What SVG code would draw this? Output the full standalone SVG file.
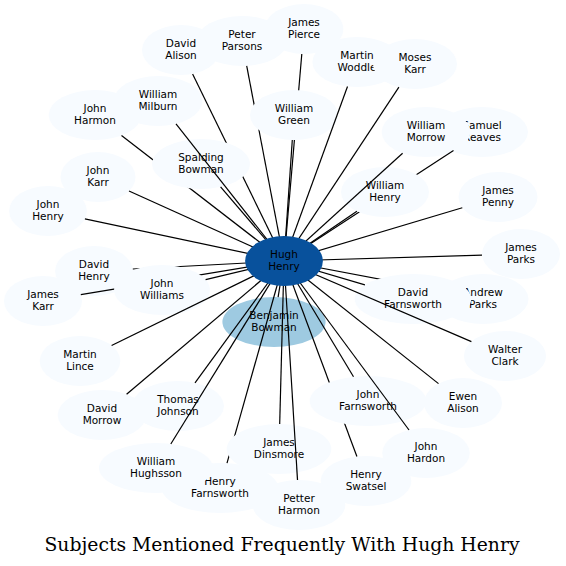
<svg xmlns="http://www.w3.org/2000/svg" width="566" height="566" viewBox="0 0 566 566">
<style>
.n ellipse{fill:#f7fbff;stroke:none}
.c ellipse{fill:#08519c;stroke:none}
.b ellipse{fill:#9ecae1;stroke:none}
text{font-family:"DejaVu Sans","Liberation Sans",sans-serif;font-size:10.5px;fill:#000;text-anchor:middle}
.e line{stroke:#000;stroke-width:1.2}
.title{font-family:"DejaVu Serif","Liberation Serif",serif;font-size:18.8px}
</style>
<rect width="566" height="566" fill="#fff"/>
<g id="node-benjamin-bowman" class="b"><ellipse cx="274" cy="322" rx="51.6" ry="25"/><text x="274" y="319">Benjamin</text><text x="274" y="331">Bowman</text></g>
<g id="node-david-alison" class="n"><ellipse cx="181" cy="50" rx="39" ry="25"/><text x="181" y="47">David</text><text x="181" y="59">Alison</text></g>
<g id="node-peter-parsons" class="n"><ellipse cx="242" cy="41" rx="45.7" ry="25"/><text x="242" y="38">Peter</text><text x="242" y="50">Parsons</text></g>
<g id="node-james-pierce" class="n"><ellipse cx="304" cy="29" rx="39.4" ry="25"/><text x="304" y="26">James</text><text x="304" y="38">Pierce</text></g>
<g id="node-martin-woddle" class="n"><ellipse cx="357" cy="62" rx="44.6" ry="25"/><text x="357" y="59">Martin</text><text x="357" y="71">Woddle</text></g>
<g id="node-moses-karr" class="n"><ellipse cx="415" cy="64" rx="42" ry="25"/><text x="415" y="61">Moses</text><text x="415" y="73">Karr</text></g>
<g id="node-william-milburn" class="n"><ellipse cx="158" cy="101" rx="44.3" ry="25"/><text x="158" y="98">William</text><text x="158" y="110">Milburn</text></g>
<g id="node-john-harmon" class="n"><ellipse cx="95" cy="115" rx="46.3" ry="25"/><text x="95" y="112">John</text><text x="95" y="124">Harmon</text></g>
<g id="node-john-karr" class="n"><ellipse cx="98" cy="177" rx="37.5" ry="25"/><text x="98" y="174">John</text><text x="98" y="186">Karr</text></g>
<g id="node-samuel-reaves" class="n"><ellipse cx="482" cy="132" rx="46" ry="25"/><text x="482" y="129">Samuel</text><text x="482" y="141">Reaves</text></g>
<g id="node-william-morrow" class="n"><ellipse cx="426" cy="132" rx="44.3" ry="25"/><text x="426" y="129">William</text><text x="426" y="141">Morrow</text></g>
<g id="node-james-penny" class="n"><ellipse cx="498" cy="197" rx="39.5" ry="25"/><text x="498" y="194">James</text><text x="498" y="206">Penny</text></g>
<g id="node-john-henry" class="n"><ellipse cx="48" cy="211" rx="38.9" ry="25"/><text x="48" y="208">John</text><text x="48" y="220">Henry</text></g>
<g id="node-james-parks" class="n"><ellipse cx="521" cy="254" rx="39" ry="25"/><text x="521" y="251">James</text><text x="521" y="263">Parks</text></g>
<g id="node-david-henry" class="n"><ellipse cx="94" cy="271" rx="38.9" ry="25"/><text x="94" y="268">David</text><text x="94" y="280">Henry</text></g>
<g id="node-james-karr" class="n"><ellipse cx="43" cy="301" rx="39" ry="25"/><text x="43" y="298">James</text><text x="43" y="310">Karr</text></g>
<g id="node-andrew-parks" class="n"><ellipse cx="483" cy="299" rx="45.5" ry="25"/><text x="483" y="296">Andrew</text><text x="483" y="308">Parks</text></g>
<g id="node-walter-clark" class="n"><ellipse cx="505" cy="356" rx="41.1" ry="25"/><text x="505" y="353">Walter</text><text x="505" y="365">Clark</text></g>
<g id="node-martin-lince" class="n"><ellipse cx="80" cy="361" rx="40.3" ry="25"/><text x="80" y="358">Martin</text><text x="80" y="370">Lince</text></g>
<g id="node-david-morrow" class="n"><ellipse cx="102" cy="415" rx="44.3" ry="25"/><text x="102" y="412">David</text><text x="102" y="424">Morrow</text></g>
<g id="node-thomas-johnson" class="n"><ellipse cx="178" cy="406" rx="46" ry="25"/><text x="178" y="403">Thomas</text><text x="178" y="415">Johnson</text></g>
<g id="node-ewen-alison" class="n"><ellipse cx="463" cy="403" rx="39" ry="25"/><text x="463" y="400">Ewen</text><text x="463" y="412">Alison</text></g>
<g id="node-john-hardon" class="n"><ellipse cx="426" cy="453" rx="43.8" ry="25"/><text x="426" y="450">John</text><text x="426" y="462">Hardon</text></g>
<g id="node-henry-swatsel" class="n"><ellipse cx="366" cy="481" rx="45.4" ry="25"/><text x="366" y="478">Henry</text><text x="366" y="490">Swatsel</text></g>
<g id="node-henry-farnsworth" class="n"><ellipse cx="220" cy="488" rx="58.3" ry="25"/><text x="220" y="485">Henry</text><text x="220" y="497">Farnsworth</text></g>
<g id="node-william-hughsson" class="n"><ellipse cx="156" cy="468" rx="57" ry="25"/><text x="156" y="465">William</text><text x="156" y="477">Hughsson</text></g>
<g id="node-petter-harmon" class="n"><ellipse cx="299" cy="505" rx="46.3" ry="25"/><text x="299" y="502">Petter</text><text x="299" y="514">Harmon</text></g>
<g id="edges-under" class="e">
<line x1="284" y1="261" x2="192.6" y2="73.9"/>
<line x1="284" y1="261" x2="121.5" y2="135.5"/>
<line x1="284" y1="261" x2="246.7" y2="65.9"/>
<line x1="284" y1="261" x2="301.8" y2="54"/>
<line x1="284" y1="261" x2="453.5" y2="150.6"/>
<line x1="284" y1="261" x2="441.6" y2="290.9"/>
<line x1="284" y1="261" x2="356.9" y2="456.5"/>
<line x1="284" y1="261" x2="227" y2="463.2"/>
<line x1="284" y1="261" x2="132.8" y2="269"/>
<line x1="284" y1="261" x2="80.8" y2="294.7"/>
</g>
<g id="node-spalding-bowman" class="n"><ellipse cx="201" cy="164" rx="48.9" ry="25"/><text x="201" y="161">Spalding</text><text x="201" y="173">Bowman</text></g>
<g id="node-william-green" class="n"><ellipse cx="294" cy="115" rx="44" ry="25"/><text x="294" y="112">William</text><text x="294" y="124">Green</text></g>
<g id="node-william-henry" class="n"><ellipse cx="385" cy="192" rx="44" ry="25"/><text x="385" y="189">William</text><text x="385" y="201">Henry</text></g>
<g id="node-david-farnsworth" class="n"><ellipse cx="413" cy="299" rx="58.3" ry="25"/><text x="413" y="296">David</text><text x="413" y="308">Farnsworth</text></g>
<g id="node-john-farnsworth" class="n"><ellipse cx="368" cy="401" rx="58.3" ry="25"/><text x="368" y="398">John</text><text x="368" y="410">Farnsworth</text></g>
<g id="node-james-dinsmore" class="n"><ellipse cx="279" cy="449" rx="52.3" ry="25"/><text x="279" y="446">James</text><text x="279" y="458">Dinsmore</text></g>
<g id="node-john-williams" class="n"><ellipse cx="162" cy="290" rx="47.9" ry="25"/><text x="162" y="287">John</text><text x="162" y="299">Williams</text></g>
<g id="edges" class="e">
<line x1="284" y1="261" x2="347.5" y2="86.5"/>
<line x1="284" y1="261" x2="398.9" y2="87.2"/>
<line x1="284" y1="261" x2="176" y2="123.8"/>
<line x1="284" y1="261" x2="292.3" y2="140"/>
<line x1="284" y1="261" x2="402.6" y2="153.2"/>
<line x1="284" y1="261" x2="220.6" y2="186.9"/>
<line x1="284" y1="261" x2="129" y2="191"/>
<line x1="284" y1="261" x2="356.9" y2="211.2"/>
<line x1="284" y1="261" x2="462.3" y2="207.7"/>
<line x1="284" y1="261" x2="84.9" y2="218.8"/>
<line x1="284" y1="261" x2="482" y2="255.2"/>
<line x1="284" y1="261" x2="205.6" y2="279.6"/>
<line x1="284" y1="261" x2="364.9" y2="284.8"/>
<line x1="284" y1="261" x2="471.4" y2="341.6"/>
<line x1="284" y1="261" x2="111.6" y2="345.5"/>
<line x1="284" y1="261" x2="126.6" y2="394.2"/>
<line x1="284" y1="261" x2="195" y2="382.8"/>
<line x1="284" y1="261" x2="353.5" y2="376.8"/>
<line x1="284" y1="261" x2="438.5" y2="383.6"/>
<line x1="284" y1="261" x2="279.7" y2="424"/>
<line x1="284" y1="261" x2="409" y2="430"/>
<line x1="284" y1="261" x2="170.8" y2="444"/>
<line x1="284" y1="261" x2="297.5" y2="480"/>
<line x1="284" y1="261" x2="278.1" y2="297.1"/>
</g>
<g id="node-hugh-henry" class="c"><ellipse cx="284" cy="261" rx="38.9" ry="25"/><text x="284" y="258">Hugh</text><text x="284" y="270">Henry</text></g>
<text class="title" x="282" y="551">Subjects Mentioned Frequently With Hugh Henry</text>
</svg>
